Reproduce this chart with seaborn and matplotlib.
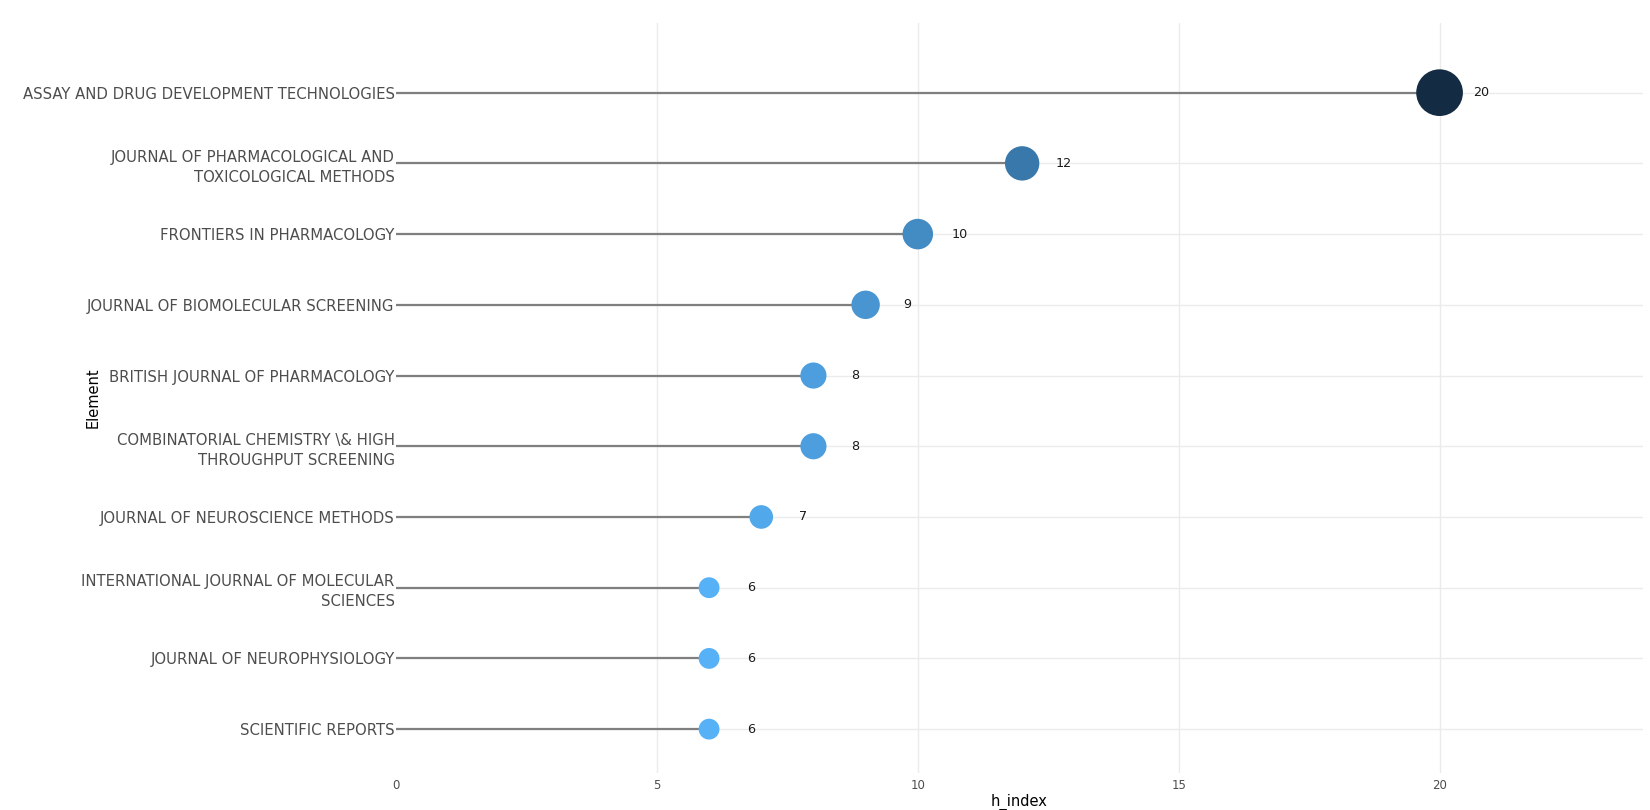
#!/usr/bin/env python3
"""Lollipop chart: h_index by source (journal)"""

import pandas as pd
import matplotlib.pyplot as plt
import seaborn as sns
from matplotlib.colors import LinearSegmentedColormap

# data, top to bottom
elements = [
    'ASSAY AND DRUG DEVELOPMENT TECHNOLOGIES',
    'JOURNAL OF PHARMACOLOGICAL AND\nTOXICOLOGICAL METHODS',
    'FRONTIERS IN PHARMACOLOGY',
    'JOURNAL OF BIOMOLECULAR SCREENING',
    'BRITISH JOURNAL OF PHARMACOLOGY',
    'COMBINATORIAL CHEMISTRY \\& HIGH\nTHROUGHPUT SCREENING',
    'JOURNAL OF NEUROSCIENCE METHODS',
    'INTERNATIONAL JOURNAL OF MOLECULAR\nSCIENCES',
    'JOURNAL OF NEUROPHYSIOLOGY',
    'SCIENTIFIC REPORTS',
]
h_index = [20, 12, 10, 9, 8, 8, 7, 6, 6, 6]
x_ticks = [0, 5, 10, 15, 20]

df = pd.DataFrame({'Element': elements, 'h_index': h_index})

sns.set_theme(style="white")
plt.rcParams['font.family'] = ['DejaVu Sans']

# ggplot-like default continuous gradient
cmap = LinearSegmentedColormap.from_list('gg', ['#56B1F7', '#132B43'])

fig = plt.figure(figsize=(16.5, 8.1), dpi=100)
ax = fig.add_axes([0.24, 0.0457, 0.7558, 0.9259])

ypos = list(range(len(df)))
ax.hlines(ypos, 0, df['h_index'], color='#7f7f7f', linewidth=1.6, zorder=2)

sns.scatterplot(data=df, x='h_index', y='Element', hue='h_index', size='h_index',
                palette=cmap, hue_norm=(6, 20), sizes=(225, 1130), size_norm=(6, 20),
                edgecolor='none', linewidth=0, legend=False, ax=ax, zorder=3)

for i, v in enumerate(df['h_index']):
    ax.text(v + 0.8, i, str(v), ha='center', va='center', fontsize=9.2, color='#1a1a1a')

ax.set_xlim(0, 23.9)
ax.set_ylim(len(df) - 1 + 0.62, -0.985)
ax.set_xticks(x_ticks)
ax.set_yticks(ypos)
ax.set_yticklabels(elements, fontsize=10.7, color='#4d4d4d', linespacing=1.4)
ax.tick_params(axis='x', labelsize=8.5, colors='#4d4d4d', length=0, pad=4)
ax.tick_params(axis='y', length=0, pad=1)

ax.grid(True, color='#ebebeb', linewidth=1)
ax.set_axisbelow(True)
ax.get_xgridlines()[0].set_visible(False)
for s in ax.spines.values():
    s.set_visible(False)

ax.set_xlabel('h_index', fontsize=10.5, color='black')
ax.set_ylabel('Element', fontsize=10.5, color='black')
ax.xaxis.set_label_coords(0.5, -0.028)
ax.yaxis.set_label_coords(-0.237, 0.5)

fig.savefig('out.png', dpi=100)
plt.close(fig)
